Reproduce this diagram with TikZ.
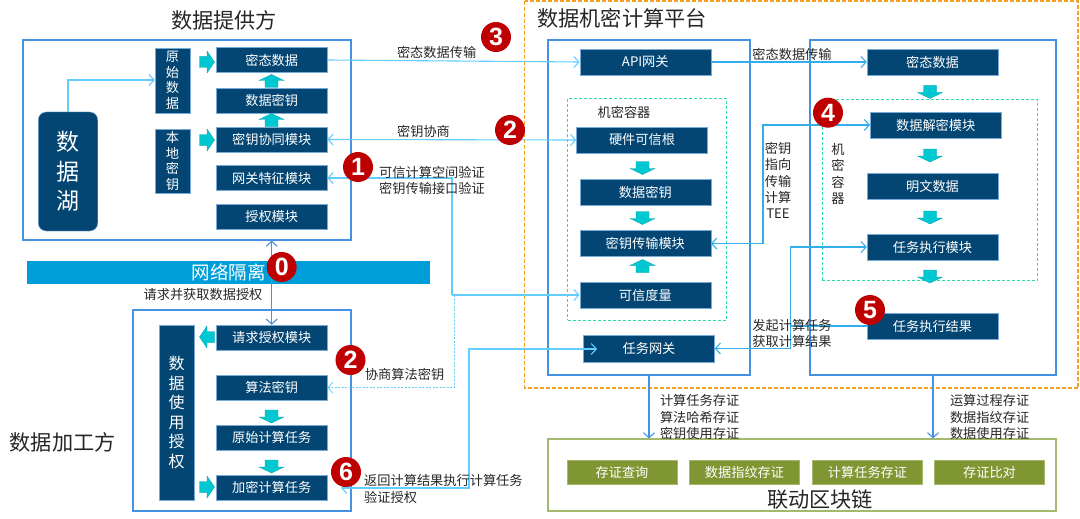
\documentclass[tikz,border=0pt]{standalone}
\usepackage{fontspec}
\setmainfont{Noto Sans CJK SC}
\newfontfamily\digitfont{Liberation Sans}
\usepackage{xcolor}
\usetikzlibrary{arrows.meta, positioning, calc}
\definecolor{TEEBlue}{RGB}{3, 70, 115}
\definecolor{TEEEdge}{RGB}{120, 170, 215}
\definecolor{TEEFrame}{RGB}{70, 145, 225}
\definecolor{TEESky}{RGB}{100, 205, 255}
\definecolor{TEELine}{RGB}{50, 175, 235}
\definecolor{TEEBand}{RGB}{0, 158, 217}
\definecolor{TEECyan}{RGB}{0, 200, 210}
\definecolor{TEETeal}{RGB}{0, 160, 165}
\definecolor{TEERed}{RGB}{190, 0, 0}
\definecolor{TEEOrange}{RGB}{245, 160, 30}
\definecolor{TEEMint}{RGB}{45, 220, 170}
\definecolor{TEEOlive}{RGB}{128, 150, 50}
\definecolor{TEEMoss}{RGB}{165, 185, 110}
\tikzset{
  barb/.tip={Straight Barb[length=5pt,width=11pt]},
  modbox/.style={
    fill=TEEBlue, draw=TEEEdge, line width=0.4pt, text=white, inner sep=0pt,
    minimum width=111pt, minimum height=25pt, align=center,
    font=\fontsize{13.2}{15.5}\selectfont
  },
  teebox/.style={modbox, minimum width=131pt, minimum height=26pt},
  chainbox/.style={modbox, fill=TEEOlive, draw=TEEMoss, minimum width=110pt, minimum height=24pt},
  framebox/.style={draw=TEEFrame, line width=1.1pt},
  secbox/.style={draw=TEEMint, line width=0.8pt, dash pattern=on 3pt off 2pt},
  skylink/.style={draw=TEESky, line width=1.1pt, -barb},
  teelink/.style={draw=TEELine, line width=1.1pt, -barb},
  framelink/.style={draw=TEEFrame, line width=1.1pt, -barb},
  flowshape/.style={fill=TEECyan, draw=TEETeal, line width=0.3pt},
  badge/.style={
    circle, fill=TEERed, text=white, inner sep=0pt, minimum size=30pt,
    font=\digitfont\bfseries\fontsize{25}{25}\selectfont
  },
  note/.style={inner sep=0pt, align=center, text=black!85, font=\fontsize{13.2}{16.2}\selectfont},
  heading/.style={inner sep=0pt, text=black!85, font=\fontsize{21.2}{24}\selectfont}
}
\begin{document}
\begin{tikzpicture}[x=1pt, y=-1pt]
  \useasboundingbox (0,0) rectangle (1080,519);

  % frames
  \draw[draw=TEEOrange, line width=1.2pt, dash pattern=on 4pt off 2pt] (524.5,1) rectangle (1078,388);
  \node[framebox, minimum width=328pt, minimum height=200pt] (provider) at (187,140) {};
  \node[framebox, minimum width=218pt, minimum height=201pt] (processor) at (242,410.5) {};
  \node[framebox, minimum width=202pt, minimum height=335pt] (gatewayside) at (649,207.5) {};
  \node[framebox, minimum width=246pt, minimum height=335pt] (taskside) at (933,207.5) {};
  \node[draw=TEEMoss, line width=1.1pt, minimum width=508pt, minimum height=72pt] (chain) at (802,475) {};
  \node[secbox, minimum width=158.5pt, minimum height=222pt] (leftcontainer) at (647,209) {};
  \node[secbox, minimum width=215.5pt, minimum height=181pt] (rightcontainer) at (930,189.5) {};

  % data provider
  \node[modbox, rounded corners=8pt, minimum width=59.5pt, minimum height=119pt,
    font=\fontsize{23}{29.5}\selectfont] (lake) at (68,171.5) {数\\据\\湖};
  \node[modbox, minimum width=35pt, minimum height=65pt] (rawdata) at (172.5,80.5) {原\\始\\数\\据};
  \node[modbox, minimum width=35pt, minimum height=64pt] (localkey) at (172.5,161) {本\\地\\密\\钥};
  \node[modbox] (cipherdata) at (271.7,60) {密态数据};
  \node[modbox] (datakey) at (271.7,100.5) {数据密钥};
  \node[modbox] (keysync) at (271.7,139.5) {密钥协同模块};
  \node[modbox] (gatefeature) at (271.7,178) {网关特征模块};
  \node[modbox] (authmod) at (271.7,217) {授权模块};

  % isolation band
  \node[fill=TEEBand, text=white, inner sep=0pt, minimum width=403pt, minimum height=23pt,
    font=\fontsize{18.5}{20}\selectfont] (isolation) at (228.5,272.5) {网络隔离};

  % data processor
  \node[modbox, minimum width=35pt, minimum height=175pt,
    font=\fontsize{16}{19.6}\selectfont] (usage) at (176.5,412.5) {数\\据\\使\\用\\授\\权};
  \node[modbox] (reqauth) at (271.7,337.5) {请求授权模块};
  \node[modbox] (algokey) at (271.7,387.5) {算法密钥};
  \node[modbox] (rawtask) at (271.7,437.5) {原始计算任务};
  \node[modbox] (enctask) at (271.7,487.5) {加密计算任务};

  % platform, left side
  \node[teebox] (apigate) at (645.3,62) {API网关};
  \node[teebox] (hwroot) at (642,140) {硬件可信根};
  \node[teebox] (teekey) at (645.3,192) {数据密钥};
  \node[teebox] (keytrans) at (645.3,243.5) {密钥传输模块};
  \node[teebox] (measure) at (645.3,295) {可信度量};
  \node[teebox, minimum height=27pt] (taskgate) at (649,348.5) {任务网关};

  % platform, right side
  \node[teebox] (teecipher) at (932.5,62) {密态数据};
  \node[teebox] (decrypt) at (935.7,125) {数据解密模块};
  \node[teebox] (plain) at (932.5,186) {明文数据};
  \node[teebox] (runner) at (932.5,247) {任务执行模块};
  \node[teebox] (result) at (932.5,326) {任务执行结果};

  % blockchain
  \node[chainbox] (query) at (622,472) {存证查询};
  \node[chainbox] (fingerprint) at (744.5,472) {数据指纹存证};
  \node[chainbox] (taskproof) at (867.5,472) {计算任务存证};
  \node[chainbox] (compare) at (989.5,472) {存证比对};

  % fat flow arrows
  \foreach \posx/\posy/\turn in {207/62/0, 207/140/0, 207/337/180, 207/487/0}
    \draw[flowshape, shift={(\posx,\posy)}, rotate=\turn]
      (-7.5,-5.5) -- (0,-5.5) -- (0,-11) -- (7.5,0) -- (0,11) -- (0,5.5) -- (-7.5,5.5) -- cycle;
  \foreach \posx/\posy/\turn in {
    271.5/81/90, 271.5/120/90, 271.5/416.5/270, 271.5/466.5/270,
    642.5/168/270, 642.5/218/270, 642.5/266/90,
    930/92/270, 930/155.5/270, 930/217.5/270, 930/276.5/270}
    \draw[flowshape, shift={(\posx,\posy)}, rotate=\turn]
      (-6.5,-6.5) -- (0.5,-6.5) -- (0.5,-12.5) -- (6.5,0) -- (0.5,12.5) -- (0.5,6.5) -- (-6.5,6.5) -- cycle;

  % connectors
  \draw[skylink] (lake.north) |- (rawdata.west |- 0,80);
  \draw[skylink] (cipherdata.east) -- (apigate.west);
  \draw[skylink, barb-barb] (keysync.east) -- (hwroot.west);
  \coordinate (joint) at (452,295);
  \draw[skylink] (joint) |- (gatefeature.east);
  \draw[skylink] (joint) -- (measure.west);
  \coordinate (dashjoint) at (454,295);
  \draw[skylink, dash pattern=on 2pt off 1.5pt, line width=0.8pt] (dashjoint) |- (algokey.east);
  \coordinate (backtip) at (341,488);
  \coordinate (backturn) at (469,349);
  \coordinate (gatetip) at (597,349);
  \draw[skylink, barb-barb] (backtip) -| (backturn) -- (gatetip);
  \draw[teelink] (apigate.east) -- (teecipher.west);
  \coordinate (keyrail) at (763,125);
  \draw[teelink, barb-barb] (keytrans.east) -| (keyrail) -- (decrypt.west);
  \coordinate (taskrail) at (790.7,326);
  \draw[teelink, -] (result.west) -- (taskrail);
  \draw[teelink, barb-barb] (taskgate.east) -| (taskrail |- runner) -- (runner.west);
  \draw[framelink, barb-barb] (reqauth.north -| authmod.south) -- (provider.south -| authmod.south);
  \draw[framelink] (gatewayside.south) -- (chain.north -| gatewayside.south);
  \draw[framelink] (taskside.south) -- (chain.north -| taskside.south);

  % labels
  \node[heading] (providertitle) at (224,20) {数据提供方};
  \node[heading] (processortitle) at (62.7,442) {数据加工方};
  \node[heading, anchor=west] (platformtitle) at (537,18) {数据机密计算平台};
  \node[heading] (chaintitle) at (820,499) {联动区块链};
  \node[note] (cipherlabel) at (436.6,52) {密态数据传输};
  \node[note] (negolabel) at (423.5,131) {密钥协商};
  \node[note] (verifylabel) at (432,180.5) {可信计算空间验证\\密钥传输接口验证};
  \node[note] (requestlabel) at (203,295) {请求并获取数据授权};
  \node[note] (algolabel) at (404.6,374) {协商算法密钥};
  \node[note, align=left, anchor=west] (backlabel) at (364,489) {返回计算结果执行计算任务\\验证授权};
  \node[note] (leftcontlabel) at (624,112) {机密容器};
  \node[note] (rightcontlabel) at (838,174) {机\\密\\容\\器};
  \node[note] (ciphertwolabel) at (792,54) {密态数据传输};
  \node[note] (pointlabel) at (778,180.5) {密钥\\指向\\传输\\计算\\TEE};
  \node[note] (tasklabel) at (792,333.5) {发起计算任务\\获取计算结果};
  \node[note] (leftprooflabel) at (699.6,417) {计算任务存证\\算法哈希存证\\密钥使用存证};
  \node[note] (rightprooflabel) at (989.6,417) {运算过程存证\\数据指纹存证\\数据使用存证};

  % numbered badges
  \node[badge] (zero) at (281.7,267) {0};
  \node[badge] (one) at (358,167) {1};
  \node[badge] (twotop) at (510,130) {2};
  \node[badge] (three) at (496,37) {3};
  \node[badge] (four) at (828,112.7) {4};
  \node[badge] (five) at (870,310) {5};
  \node[badge] (twolow) at (350.5,360) {2};
  \node[badge] (six) at (346,472) {6};
\end{tikzpicture}
\end{document}
